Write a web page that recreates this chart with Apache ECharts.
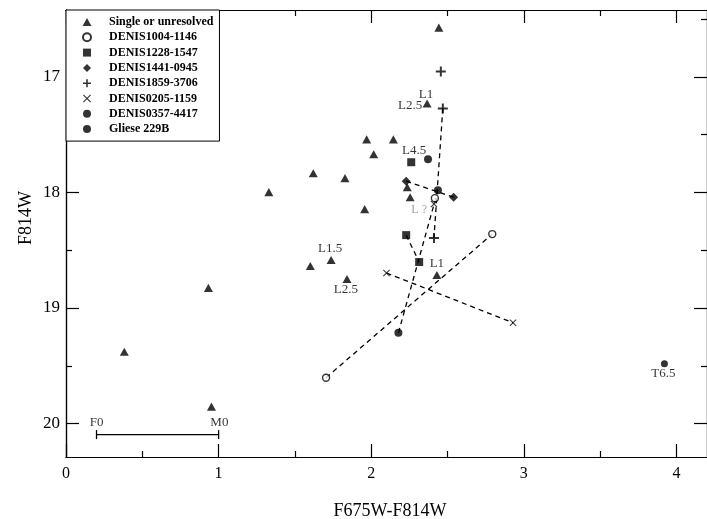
<!DOCTYPE html>
<html>
<head>
<meta charset="utf-8">
<script src="https://cdn.jsdelivr.net/npm/echarts@6/dist/echarts.min.js"></script>
<style>
  html, body { margin: 0; padding: 0; background: #fff; }
  #chart { width: 707px; height: 519px; }
</style>
</head>
<body>
<div id="chart"></div>
<script>
// colour index vs F814W magnitude
var xTicks = [0, 1, 2, 3, 4];
var xMinor = [0.5, 1.5, 2.5, 3.5];
var yTicks = [17, 18, 19, 20];
var yMinor = [16.5, 17.5, 18.5, 19.5];

var single = [
  [2.443, 16.573], [2.366, 17.229], [1.970, 17.540], [2.145, 17.540],
  [2.016, 17.669], [1.620, 17.833], [1.828, 17.876], [1.329, 17.997],
  [1.957, 18.144], [2.236, 17.954], [2.255, 18.041], [1.601, 18.636],
  [1.737, 18.584], [1.841, 18.749], [2.430, 18.714], [0.933, 18.826],
  [0.382, 19.379], [0.953, 19.854]
];
var d1004 = [[1.704, 19.604], [2.793, 18.360], [2.417, 18.049]];
var d1228 = [[2.229, 18.369], [2.314, 18.602], [2.262, 17.738]];
var d1441 = [[2.229, 17.902], [2.540, 18.041]];
var d1859 = [[2.469, 17.272], [2.411, 18.395], [2.456, 16.953]];
var d0205 = [[2.100, 18.697], [2.929, 19.128], [2.411, 18.100]];
var d0357 = [[2.178, 19.215], [2.437, 17.980], [2.372, 17.712]];
var gliese = [[3.921, 19.483]];

// spectral type notes [x, y, text]
var notes = [
  [2.359, 17.151, 'L1'], [2.255, 17.246, 'L2.5'], [2.281, 17.635, 'L4.5'],
  [1.730, 18.489, 'L1.5'], [1.834, 18.844, 'L2.5'], [2.430, 18.619, 'L1'],
  [3.914, 19.570, 'T6.5'], [0.201, 19.992, 'F0'], [1.005, 19.992, 'M0']
];
var faintNotes = [[2.314, 18.153, 'L ?']];
var scaleBar = [[0.2, 20.096], [1.0, 20.096]];

var names = ['Single or unresolved', 'DENIS1004-1146', 'DENIS1228-1547', 'DENIS1441-0945',
  'DENIS1859-3706', 'DENIS0205-1159', 'DENIS0357-4417', 'Gliese 229B'];

var FONT = 'Liberation Serif';
var triPath = 'path://M5,0L10,9L0,9z';
var rectPath = 'path://M0,0h10v10h-10z';
var diamondPath = 'path://M5,0L10,5L5,10L0,5z';
var plusPath = 'path://M4,0h2v4h4v2h-4v4h-2v-4h-4v-2h4z';
var crossPath = 'path://M0,1L1,0L5,4L9,0L10,1L6,5L10,9L9,10L5,6L1,10L0,9L4,5z';

function xAx(pos, vals, len, labels) {
  return {
    type: 'value', position: pos, min: 0, max: 4.2,
    axisLine: { show: true, onZero: false, lineStyle: { color: '#000', width: 1.2 } },
    axisTick: { show: true, inside: true, length: len, customValues: vals, lineStyle: { color: '#000', width: 1.2 } },
    axisLabel: labels ? { show: true, customValues: vals, color: '#000', fontFamily: FONT, fontSize: 16, margin: 9 } : { show: false },
    splitLine: { show: false }
  };
}
function yAx(pos, vals, len, labels) {
  return {
    type: 'value', position: pos, min: 16.42, max: 20.29, inverse: true,
    axisLine: { show: true, onZero: false, lineStyle: { color: '#000', width: 1.2 } },
    axisTick: { show: true, inside: true, length: len, customValues: vals, lineStyle: { color: '#000', width: 1.2 } },
    axisLabel: labels ? { show: true, customValues: vals, color: '#000', fontFamily: FONT, fontSize: 17, margin: 6 } : { show: false },
    splitLine: { show: false }
  };
}

function dashed(pts) {
  return {
    type: 'line', data: pts, symbol: 'none', silent: true, z: 1,
    lineStyle: { color: '#000', width: 1.3, type: [5, 4] }
  };
}
function marks(name, data, symbol, size, style) {
  return {
    type: 'scatter', name: name, data: data, symbol: symbol, symbolSize: size, z: 3,
    symbolKeepAspect: true,
    itemStyle: style || { color: '#000' }
  };
}

var chart = echarts.init(document.getElementById('chart'));
chart.setOption({
  animation: false,
  backgroundColor: '#fff',
  grid: { left: 66, right: -7, top: 10, bottom: 62 },
  xAxis: [xAx('bottom', xTicks, 13, true), xAx('bottom', xMinor, 6, false),
          xAx('top', xTicks, 13, false), xAx('top', xMinor, 6, false)],
  yAxis: [yAx('left', yTicks, 13, true), yAx('left', yMinor, 6, false),
          yAx('right', yTicks, 13, false), yAx('right', yMinor, 6, false)],
  legend: {
    data: names, orient: 'vertical', left: 66, top: 10,
    padding: [6, 6, 6, 16], itemWidth: 34, itemHeight: 8, itemGap: 3.3,
    symbolKeepAspect: true,
    borderColor: '#000', borderWidth: 1, backgroundColor: '#fff', borderRadius: 0,
    textStyle: { fontFamily: FONT, fontSize: 12, lineHeight: 12, fontWeight: 'bold', color: '#000' },
    selectedMode: false
  },
  graphic: [
    { type: 'text', x: 26, y: 218, rotation: Math.PI / 2,
      style: { text: 'F814W', font: '18px "Liberation Serif"', fill: '#000', align: 'center', verticalAlign: 'middle' } },
    { type: 'text', x: 390, y: 511,
      style: { text: 'F675W-F814W', font: '18px "Liberation Serif"', fill: '#000', align: 'center', verticalAlign: 'middle' } }
  ],
  series: [
    dashed(d1004.slice(0, 2)), dashed(d1228.slice(0, 2)), dashed(d1441),
    dashed(d1859.slice(0, 2)), dashed(d0205.slice(0, 2)), dashed(d0357.slice(0, 2)),
    {
      type: 'line', data: scaleBar, silent: true, z: 1,
      symbol: 'path://M0,0h1v10h-1z', symbolSize: [1.3, 9],
      itemStyle: { color: '#000' }, lineStyle: { color: '#000', width: 1.2 }
    },
    marks(names[0], single, triPath, 9),
    marks(names[1], d1004, 'circle', 7, { color: '#fff', borderColor: '#000', borderWidth: 1.4 }),
    marks(names[2], d1228, rectPath, 8),
    marks(names[3], d1441, diamondPath, 9),
    marks(names[4], d1859, plusPath, 10),
    marks(names[5], d0205, crossPath, 7),
    marks(names[6], d0357, 'circle', 8),
    marks(names[7], gliese, 'circle', 7),
    {
      type: 'scatter', data: notes, symbolSize: 0, silent: true, z: 4,
      label: { show: true, position: 'inside', formatter: function (p) { return p.value[2]; },
        fontFamily: FONT, fontSize: 13, color: '#000' }
    },
    {
      type: 'scatter', data: faintNotes, symbolSize: 0, silent: true, z: 4,
      label: { show: true, position: 'inside', formatter: function (p) { return p.value[2]; },
        fontFamily: FONT, fontSize: 12, color: '#888' }
    }
  ]
});
</script>
</body>
</html>
